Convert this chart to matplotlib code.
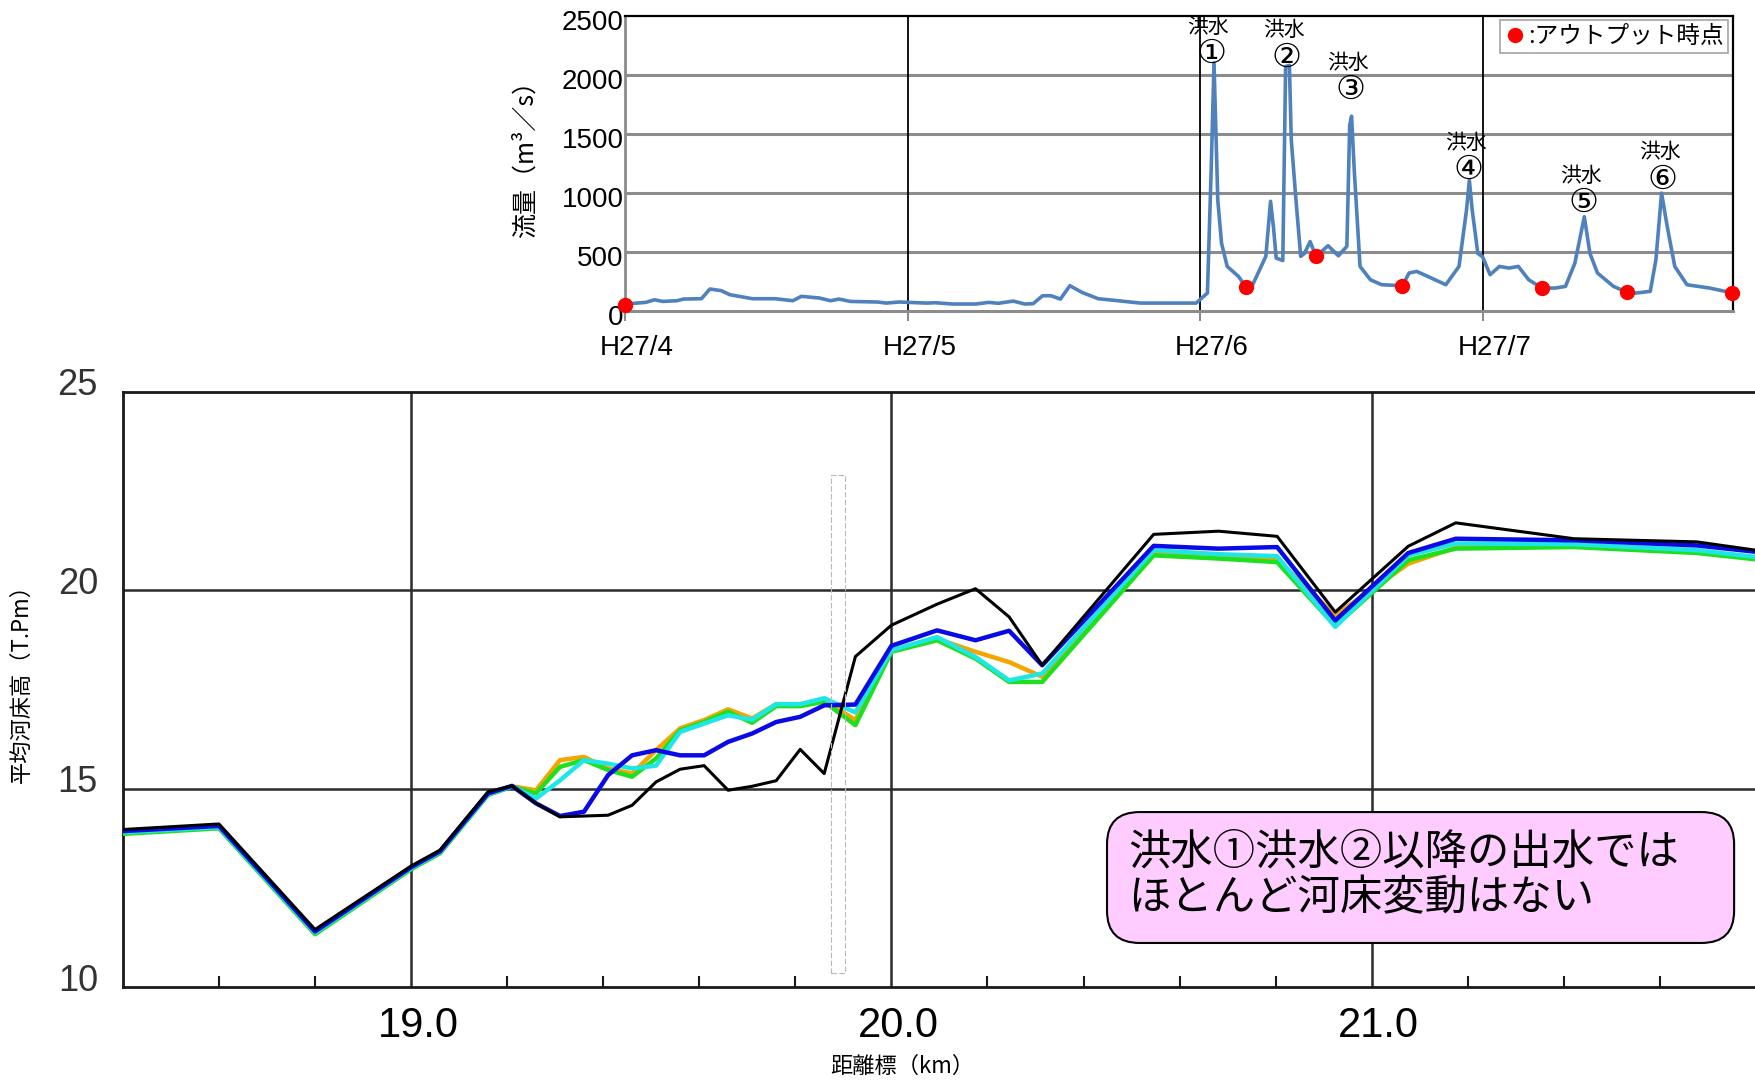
import matplotlib
matplotlib.use("Agg")
import matplotlib.pyplot as plt
import matplotlib.transforms as mtransforms
from matplotlib.patches import FancyBboxPatch, Rectangle

plt.rcParams['font.family'] = ['Noto Sans CJK JP', 'DejaVu Sans']

# ---- 上段: 流量ハイドログラフ (H27/4/1 からの日数) ----
flow_day = [0, 2.2, 3.1, 4.0, 5.5, 6.2, 8.1, 9.0, 10.2, 11.1, 13.5, 15.9, 17.8, 18.7,
            20.6, 21.8, 22.7, 23.9, 26.8, 27.7, 29.1, 32.0, 32.9, 34.8, 37.2, 38.6,
            39.6, 41.2, 42.4, 43.3, 44.3, 45.2, 46.2, 47.2, 48.5, 50.2, 52.3, 54.7,
            57.1, 60.6, 61.8, 62.2, 62.5, 62.9, 63.3, 63.9, 65.1, 65.9, 66.6, 68.0,
            68.5, 68.8, 69.1, 69.8, 70.1, 70.5, 70.7, 71.2, 71.7, 72.1, 72.7, 73.3,
            73.9, 74.6, 75.7, 76.6, 76.9, 77.1, 77.4, 78.0, 79.1, 80.3, 82.5, 83.2,
            84.0, 85.2, 87.1, 88.5, 89.3, 89.6, 89.9, 90.5, 91.0, 91.8, 92.8, 93.8,
            94.8, 95.9, 97.3, 98.7, 99.8, 100.8, 101.8, 102.4, 103.2, 104.9, 106.3,
            107.3, 108.8, 109.4, 110.0, 110.6, 111.4, 112.7, 113.9, 115.1, 117.6]
flow_q = [62, 76, 98, 84, 90, 104, 107, 189, 175, 141, 107, 107, 90, 127,
          113, 90, 104, 84, 79, 70, 79, 70, 73, 62, 62, 76,
          68, 87, 62, 65, 132, 132, 104, 217, 160, 107, 90, 70,
          70, 70, 155, 1200, 2100, 940, 575, 380, 295, 205, 225, 465,
          930, 720, 450, 430, 2070, 2080, 1450, 940, 465, 490, 590, 470,
          505, 555, 470, 550, 1575, 1650, 1170, 380, 267, 225, 217, 324,
          338, 295, 225, 380, 858, 1110, 858, 490, 462, 310, 380, 366,
          380, 267, 197, 197, 211, 408, 800, 490, 324, 211, 163,
          155, 169, 436, 1000, 717, 380, 225, 211, 197, 155]

output_day = [0, 65.9, 73.3, 82.5, 97.3, 106.3, 117.5]
output_q = [57, 205, 470, 217, 197, 163, 158]

month_day = [0, 30, 61, 91]
month_label = ['H27/4', 'H27/5', 'H27/6', 'H27/7']

flood_name = ['①', '②', '③', '④', '⑤', '⑥']
flood_day = [62.2, 70.2, 77.0, 89.5, 101.7, 110.1]
flood_lab_q = [2180, 2150, 1875, 1200, 920, 1120]

# ---- 下段: 平均河床高縦断 ----
km = [18.4, 18.6, 18.8, 19.0, 19.06, 19.16, 19.21, 19.26, 19.31, 19.36, 19.41, 19.46,
      19.51, 19.56, 19.61, 19.66, 19.71, 19.76, 19.81, 19.86, 19.925, 20.0, 20.095,
      20.175, 20.245, 20.314, 20.546, 20.681, 20.803, 20.924, 21.076, 21.175, 21.421,
      21.677, 21.8]
bed_black = [13.97, 14.11, 11.45, 13.05, 13.45, 14.92, 15.07, 14.63, 14.29, 14.31, 14.33, 14.58,
             15.17, 15.49, 15.58, 14.96, 15.06, 15.20, 15.99, 15.38, 18.33, 19.12, 19.65,
             20.04, 19.33, 18.11, 21.41, 21.49, 21.36, 19.45, 21.11, 21.70, 21.30,
             21.22, 21.01]
bed_blue = [13.93, 14.06, 11.40, 13.02, 13.42, 14.88, 15.07, 14.63, 14.31, 14.42, 15.34, 15.84,
            15.97, 15.84, 15.84, 16.18, 16.39, 16.68, 16.81, 17.10, 17.12, 18.60, 18.99,
            18.74, 18.98, 18.11, 21.12, 21.05, 21.09, 19.24, 20.94, 21.30, 21.26,
            21.13, 20.97]
bed_cyan = [13.90, 14.03, 11.37, 13.00, 13.40, 14.86, 15.06, 14.75, 15.21, 15.72, 15.63, 15.51,
            15.58, 16.43, 16.64, 16.85, 16.74, 17.13, 17.13, 17.28, 16.92, 18.49, 18.82,
            18.32, 17.73, 17.90, 21.01, 20.91, 20.86, 19.08, 20.88, 21.18, 21.16,
            21.01, 20.84]
bed_green = [13.86, 14.00, 11.33, 12.97, 13.37, 14.84, 15.05, 14.88, 15.55, 15.72, 15.47, 15.30,
             15.76, 16.47, 16.68, 16.94, 16.66, 17.08, 17.08, 17.19, 16.60, 18.45, 18.74,
             18.28, 17.69, 17.69, 20.88, 20.80, 20.71, 19.10, 20.76, 21.05, 21.09,
             20.94, 20.78]
bed_orange = [13.88, 14.02, 11.35, 12.98, 13.38, 14.85, 15.06, 14.96, 15.72, 15.80, 15.51, 15.38,
              15.97, 16.52, 16.73, 17.00, 16.77, 17.13, 17.13, 17.23, 16.73, 18.47, 18.78,
              18.45, 18.19, 17.82, 20.92, 20.85, 20.78, 19.37, 20.67, 21.08, 21.12,
              20.97, 20.80]

num_font = ['Liberation Sans', 'DejaVu Sans']

fig = plt.figure(figsize=(17.56, 10.8), dpi=100)

# ================= 上段 =================
ax1 = fig.add_axes([0.356, 0.7117, 0.631, 0.2738])
ax1.set_xlim(0, 117.6)
ax1.set_ylim(0, 2500)
ax1.set_yticks([0, 500, 1000, 1500, 2000, 2500])
for q in [500, 1000, 1500, 2000]:
    ax1.axhline(q, color='#8c8c8c', lw=2.2, zorder=1)
for d in month_day[1:]:
    ax1.axvline(d, color='black', lw=1.3, zorder=1)
ax1.plot(flow_day, flow_q, color='#4F81BD', lw=2.6, zorder=3)
ax1.plot(output_day, output_q, 'o', color='#FF0000', ms=10, zorder=4, clip_on=False,
         label=':アウトプット時点')

ax1.spines['top'].set_color('black')
ax1.spines['top'].set_linewidth(1.6)
ax1.spines['right'].set_color('black')
ax1.spines['right'].set_linewidth(1.6)
ax1.spines['left'].set_color('#8c8c8c')
ax1.spines['left'].set_linewidth(2)
ax1.spines['bottom'].set_color('#8c8c8c')
ax1.spines['bottom'].set_linewidth(2.2)

ax1.set_xticks(month_day)
ax1.set_xticklabels(month_label)
ax1.tick_params(axis='x', direction='out', length=7, width=1.5, color='#8c8c8c',
                labelsize=20, pad=10)
ax1.tick_params(axis='y', length=0, labelsize=20, pad=1)
for lab in ax1.get_xticklabels():
    lab.set_family(num_font)
    lab.set_transform(lab.get_transform() +
                      mtransforms.ScaledTranslation(0.12, 0, fig.dpi_scale_trans))
for lab in ax1.get_yticklabels():
    lab.set_family(num_font)
    lab.set_transform(lab.get_transform() +
                      mtransforms.ScaledTranslation(0, -0.04, fig.dpi_scale_trans))
ax1.set_ylabel('流量（m³／s）', fontsize=18)
ax1.yaxis.set_label_coords(-0.078, 0.535)

for name, d, q in zip(flood_name, flood_day, flood_lab_q):
    ax1.text(d - 0.3, q + 225, '洪水', fontsize=15, ha='center', va='center', zorder=5)
    ax1.text(d, q, name, fontsize=24, ha='center', va='center', zorder=5,
             family=['DejaVu Sans'])

leg = ax1.legend(loc='upper right', fontsize=17, frameon=True, fancybox=False,
                 handletextpad=0.1, handlelength=0.9, borderpad=0.2,
                 borderaxespad=0.2)
leg.get_frame().set_edgecolor('#8c8c8c')
leg.get_frame().set_linewidth(1.2)

# ================= 下段 =================
ax2 = fig.add_axes([0.070, 0.0861, 0.930, 0.551])
ax2.set_xlim(18.4, 21.8)
ax2.set_ylim(10, 25)

for v in [19.0, 20.0, 21.0]:
    ax2.axvline(v, color='#2b2b2b', lw=1.8, zorder=1)
for h in [15, 20]:
    ax2.axhline(h, color='#2b2b2b', lw=1.8, zorder=1)

ax2.plot(km, bed_orange, color='#F5A500', lw=3.2, zorder=2)
ax2.plot(km, bed_green, color='#1EE01E', lw=3.2, zorder=3)
ax2.plot(km, bed_cyan, color='#1EE6E6', lw=3.2, zorder=4)
ax2.plot(km, bed_blue, color='#0A0AE6', lw=3.2, zorder=5)
ax2.plot(km, bed_black, color='black', lw=2.2, zorder=6)

# 図中の点線枠
ax2.add_patch(Rectangle((19.874, 10.35), 0.03, 12.55, fc='none', ec='#b8b8b8',
                        lw=0.8, ls=(0, (5, 2)), zorder=7))

for s in ['left', 'bottom', 'top']:
    ax2.spines[s].set_linewidth(2)
    ax2.spines[s].set_color('#1a1a1a')
ax2.spines['right'].set_visible(False)

ax2.set_yticks([10, 15, 20, 25])
ax2.set_xticks([19.0, 20.0, 21.0])
ax2.set_xticklabels(['19.0', '20.0', '21.0'])
ax2.set_xticks([18.6, 18.8, 19.2, 19.4, 19.6, 19.8, 20.2, 20.4, 20.6, 20.8,
                21.2, 21.4, 21.6], minor=True)
ax2.tick_params(axis='x', which='major', length=0, labelsize=30, pad=14)
ax2.tick_params(axis='x', which='minor', direction='in', length=8, width=1.5,
                color='#1a1a1a')
ax2.tick_params(axis='y', length=0, labelsize=26, pad=18, labelcolor='#333333')
for lab in ax2.get_xticklabels():
    lab.set_family(num_font)
    lab.set_transform(lab.get_transform() +
                      mtransforms.ScaledTranslation(0.07, 0, fig.dpi_scale_trans))
for lab in ax2.get_yticklabels():
    lab.set_family(num_font)
    lab.set_transform(lab.get_transform() +
                      mtransforms.ScaledTranslation(0, 0.1, fig.dpi_scale_trans))

ax2.set_xlabel('距離標（km）', fontsize=16)
ax2.xaxis.label.set_va('center')
ax2.xaxis.set_label_coords(0.477, -0.133)
ax2.set_ylabel('平均河床高（T.Pm）', fontsize=16)
ax2.yaxis.set_label_coords(-0.055, 0.52)

box = FancyBboxPatch((0.6026, 0.074), 0.384, 0.22, transform=ax2.transAxes,
                     boxstyle='round,pad=0,rounding_size=0.02', fc='#FFCCFF',
                     ec='black', lw=1.5, zorder=8, mutation_aspect=2.7)
ax2.add_patch(box)
ax2.text(0.6155, 0.188, '洪水①洪水②以降の出水では\nほとんど河床変動はない',
         transform=ax2.transAxes, fontsize=30.5, va='center', ha='left',
         linespacing=1.05, zorder=9)

fig.savefig('out.png', dpi=100)
